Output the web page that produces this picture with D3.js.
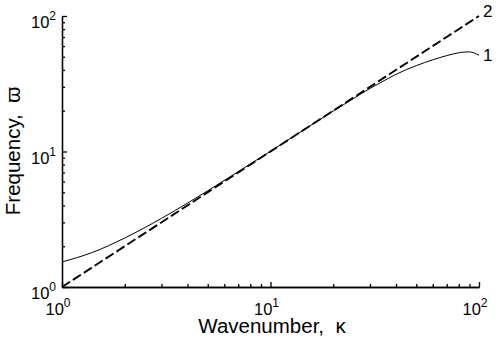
<!DOCTYPE html>
<html>
<head>
<meta charset="utf-8">
<script src="https://cdn.jsdelivr.net/npm/d3@7"></script>
<style>
  body { margin: 0; background: #fff; }
  svg { display: block; font-family: 'Liberation Sans', Arial, sans-serif; }
</style>
</head>
<body>
<svg id="chart" width="500" height="342"></svg>
<script>
// wavenumber / frequency
const kappa1 = [1, 1.4, 2, 3, 4, 5, 7, 10, 15, 20, 25, 30, 35, 40, 45, 50, 60, 70, 80, 85, 90, 95, 100];
const omega1 = [1.53, 1.8, 2.3, 3.21, 4.16, 5.13, 7.09, 10.05, 15, 19.9, 24.6, 29.2, 33.3, 37.1, 40.3, 43, 47.5, 51, 53.5, 54.2, 54.3, 53.3, 51.3];
const kappa2 = [1, 100];
const omega2 = [1, 100];
const majorTicks = [1, 10, 100];
const exponents = ['0', '1', '2'];
const curveLabels = ['1', '2'];

const svg = d3.select('#chart');
const margin = { top: 16, right: 21, bottom: 55, left: 62 };
const width = +svg.attr('width') - margin.left - margin.right;
const height = +svg.attr('height') - margin.top - margin.bottom;

const x = d3.scaleLog().domain([1, 100]).range([margin.left, margin.left + width]);
const y = d3.scaleLog().domain([1, 100]).range([margin.top + height, margin.top]);

const minorTicks = [];
[1, 10].forEach((base) => {
  for (let i = 2; i <= 9; i++) minorTicks.push(base * i);
});

// curves
const line = d3.line()
  .x(d => x(d[0]))
  .y(d => y(d[1]))
  .curve(d3.curveMonotoneX);

svg.append('path')
  .datum(kappa1.map((k, i) => [k, omega1[i]]))
  .attr('d', line)
  .attr('fill', 'none')
  .attr('stroke', '#000')
  .attr('stroke-width', 1);

svg.append('path')
  .datum(kappa2.map((k, i) => [k, omega2[i]]))
  .attr('d', line)
  .attr('fill', 'none')
  .attr('stroke', '#000')
  .attr('stroke-width', 1.9)
  .attr('stroke-dasharray', '9.5,3.5');

// axes
function styleAxis(g) {
  g.selectAll('path, line').attr('stroke', '#000').attr('stroke-width', 1.3);
  g.selectAll('text').remove();
}

svg.append('g')
  .attr('transform', `translate(0,${margin.top + height})`)
  .call(d3.axisBottom(x).tickValues(minorTicks).tickSize(-3).tickSizeOuter(0).tickFormat(''))
  .call(styleAxis);
svg.append('g')
  .attr('transform', `translate(0,${margin.top + height})`)
  .call(d3.axisBottom(x).tickValues(majorTicks).tickSize(-5).tickSizeOuter(0).tickFormat(''))
  .call(styleAxis);
svg.append('g')
  .attr('transform', `translate(${margin.left},0)`)
  .call(d3.axisLeft(y).tickValues(minorTicks).tickSize(-3).tickSizeOuter(0).tickFormat(''))
  .call(styleAxis);
svg.append('g')
  .attr('transform', `translate(${margin.left},0)`)
  .call(d3.axisLeft(y).tickValues(majorTicks).tickSize(-5).tickSizeOuter(0).tickFormat(''))
  .call(styleAxis);

// tick labels 10^n
function powerLabel(sel) {
  sel.append('tspan').text('10');
  sel.append('tspan')
    .attr('dy', -8)
    .attr('font-size', 12)
    .text((d, i) => exponents[i]);
}

svg.append('g').selectAll('text')
  .data(majorTicks)
  .enter().append('text')
    .attr('x', d => x(d) - 4)
    .attr('y', margin.top + height + 28)
    .attr('text-anchor', 'middle')
    .attr('font-size', 16.5)
    .call(powerLabel);

svg.append('g').selectAll('text')
  .data(majorTicks)
  .enter().append('text')
    .attr('x', margin.left - 6)
    .attr('y', d => y(d) + 12)
    .attr('text-anchor', 'end')
    .attr('font-size', 16.5)
    .call(powerLabel);

// axis titles
svg.append('text')
  .attr('x', 272)
  .attr('y', 333)
  .attr('text-anchor', 'middle')
  .attr('font-size', 20.5)
  .attr('xml:space', 'preserve')
  .text('Wavenumber,  \u03BA');

svg.append('text')
  .attr('transform', `translate(20,${151}) rotate(-90)`)
  .attr('text-anchor', 'middle')
  .attr('font-size', 20.5)
  .attr('xml:space', 'preserve')
  .text('Frequency,  \u03D6');

// curve labels
svg.selectAll('.curveLabel')
  .data(curveLabels)
  .enter().append('text')
    .attr('class', 'curveLabel')
    .attr('x', 483)
    .attr('y', (d, i) => (i === 0 ? y(omega1[omega1.length - 1]) + 6 : y(omega2[1]) + 1))
    .attr('font-size', 17)
    .text(d => d);
</script>
</body>
</html>
